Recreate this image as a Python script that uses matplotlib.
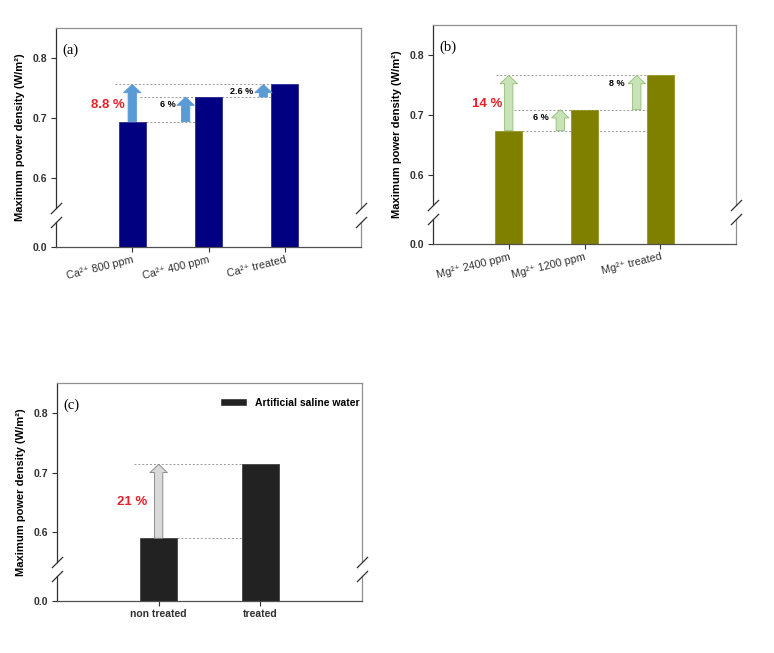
import matplotlib
matplotlib.use("Agg")
import numpy as np
import matplotlib.pyplot as plt

plt.rcParams['font.family'] = ['Liberation Sans', 'DejaVu Sans']

W, H = 774, 653

# data
ca_labels = ['Ca²⁺ 800 ppm', 'Ca²⁺ 400 ppm', 'Ca²⁺ treated']
ca_values = [0.694, 0.735, 0.756]
mg_labels = ['Mg²⁺ 2400 ppm', 'Mg²⁺ 1200 ppm', 'Mg²⁺ treated']
mg_values = [0.674, 0.709, 0.766]
sw_labels = ['non treated', 'treated']
sw_values = [0.590, 0.714]

# broken y axis: 0 .. 0.55 squeezed into a short strip
BRK, T0 = 0.55, 0.485


def fwd(v):
    v = np.asarray(v, dtype=float)
    return np.where(v >= BRK, v, T0 + v * (BRK - T0) / BRK)


def inv(t):
    t = np.asarray(t, dtype=float)
    return np.where(t >= BRK, t, (t - T0) * BRK / (BRK - T0))


def box(x0, x1, y0, y1):
    return [x0 / W, 1 - y1 / H, (x1 - x0) / W, (y1 - y0) / H]


def panel(fig, xs, ytop, ybot, ncat, ylab_x):
    ax = fig.add_axes(box(xs[0], xs[1], ytop, ybot))
    ax.set_yscale('function', functions=(fwd, inv))
    ax.set_ylim(0, 0.85)
    ax.set_xlim(-1, ncat)
    ax.set_yticks([0.0, 0.6, 0.7, 0.8])
    ax.set_yticklabels(['0.0', '0.6', '0.7', '0.8'], fontweight='bold')
    ax.minorticks_off()
    ax.spines['left'].set_visible(False)
    ax.spines['right'].set_visible(False)
    ax.spines['top'].set_color('#909090')
    ax.spines['bottom'].set_color('#505050')
    for s in ax.spines.values():
        s.set_linewidth(0.9)
    ax.tick_params(direction='out', length=3.5, width=0.8, colors='#303030',
                   labelsize=7.5, pad=2)
    ax.tick_params(axis='y', pad=3)
    # side spines with a gap, plus break marks
    lo, hi = 0.114, 0.178
    for x, c in ((0, '#303030'), (1, '#909090')):
        ax.plot([x, x], [0, lo], transform=ax.transAxes, color=c, lw=0.9, clip_on=False)
        ax.plot([x, x], [hi, 1], transform=ax.transAxes, color=c, lw=0.9, clip_on=False)
        ax.plot([x, x], [lo, hi], transform=ax.transAxes, linestyle='none',
                marker=[(-1, -1), (1, 1)], markersize=8, mec='#303030', mew=0.9,
                clip_on=False)
    fig.text(ylab_x / W, 1 - (ytop + ybot) / 2 / H, 'Maximum power density (W/m²)',
             rotation=90, ha='center', va='center', fontsize=8, fontweight='bold')
    return ax


def up_arrow(ax, x, y0, y1, fc, ec):
    ax.annotate('', xy=(x, y1), xytext=(x, y0),
                arrowprops=dict(arrowstyle='simple,head_length=0.6,head_width=1.25,tail_width=0.6',
                                mutation_scale=10, fc=fc, ec=ec, lw=0.6,
                                shrinkA=0, shrinkB=0))


def dashed(ax, y, x0, x1):
    ax.hlines(y, x0, x1, colors='#9a9a9a', linestyles=(0, (2, 2)), linewidth=0.7, zorder=1)


fig = plt.figure(figsize=(W / 100, H / 100), dpi=100)
bw = 0.36

# ---------- (a) ----------
ax = panel(fig, (56, 361), 28, 247, 3, 20)
xa = list(range(len(ca_values)))
ax.bar(xa, ca_values, width=bw, color='#000080', edgecolor='#1a1a8a', lw=0.5, zorder=2)
ax.set_xticks(xa)
ax.set_xticklabels(ca_labels, rotation=14, ha='right', va='top',
                   rotation_mode='anchor', fontsize=7.8)
dashed(ax, ca_values[2], -0.22, 2 - bw / 2)
dashed(ax, ca_values[1], 0.1, 2 - bw / 2)
dashed(ax, ca_values[0], bw / 2, 1 - bw / 2)
blue = '#5b9bd5'
up_arrow(ax, 0, ca_values[0], ca_values[2], blue, blue)
up_arrow(ax, 0.7, ca_values[0], ca_values[1], blue, blue)
up_arrow(ax, 1.72, ca_values[1], ca_values[2], blue, blue)
ax.text(-0.32, 0.722, '8.8 %', color='#e8202a', fontsize=9.5, fontweight='bold',
        ha='center', va='center')
ax.text(0.47, 0.722, '6 %', fontsize=6.5, fontweight='bold', ha='center', va='center')
ax.text(1.44, 0.745, '2.6 %', fontsize=6.5, fontweight='bold', ha='center', va='center')
ax.text(0.02, 0.9, '(a)', transform=ax.transAxes, family=['Liberation Serif'],
        fontsize=10.5, ha='left', va='center')

# ---------- (b) ----------
ax = panel(fig, (433, 736), 25, 244, 3, 397)
xb = list(range(len(mg_values)))
ax.bar(xb, mg_values, width=bw, color='#808000', edgecolor='#8a8a10', lw=0.5, zorder=2)
ax.set_xticks(xb)
ax.set_xticklabels(mg_labels, rotation=14, ha='right', va='top',
                   rotation_mode='anchor', fontsize=7.8)
dashed(ax, mg_values[2], -0.17, 2 - bw / 2)
dashed(ax, mg_values[1], 0.07, 2 - bw / 2)
dashed(ax, mg_values[0], bw / 2, 2 - bw / 2)
gfc, gec = '#c9e3b8', '#8fbf74'
up_arrow(ax, 0, mg_values[0], mg_values[2], gfc, gec)
up_arrow(ax, 0.68, mg_values[0], mg_values[1], gfc, gec)
up_arrow(ax, 1.69, mg_values[1], mg_values[2], gfc, gec)
ax.text(-0.28, 0.718, '14 %', color='#e8202a', fontsize=9.5, fontweight='bold',
        ha='center', va='center')
ax.text(0.43, 0.696, '6 %', fontsize=6.5, fontweight='bold', ha='center', va='center')
ax.text(1.42, 0.752, '8 %', fontsize=6.5, fontweight='bold', ha='center', va='center')
ax.text(0.02, 0.9, '(b)', transform=ax.transAxes, family=['Liberation Serif'],
        fontsize=10.5, ha='left', va='center')

# ---------- (c) ----------
ax = panel(fig, (57, 362), 383, 601, 2, 21)
xc = list(range(len(sw_values)))
ax.bar(xc, sw_values, width=bw, color='#222222', edgecolor='#333333', lw=0.5, zorder=2,
       label='Artificial saline water')
ax.set_xticks(xc)
ax.set_xticklabels(sw_labels, fontsize=7.5, fontweight='bold')
dashed(ax, sw_values[1], -0.24, 1 - bw / 2)
dashed(ax, sw_values[0], bw / 2, 1 - bw / 2)
up_arrow(ax, 0, sw_values[0], sw_values[1], '#d9d9d9', '#808080')
ax.text(-0.26, 0.651, '21 %', color='#e8202a', fontsize=9.5, fontweight='bold',
        ha='center', va='center')
ax.text(0.02, 0.9, '(c)', transform=ax.transAxes, family=['Liberation Serif'],
        fontsize=10.5, ha='left', va='center')
ax.legend(loc='upper right', bbox_to_anchor=(1.015, 0.965), frameon=False,
          prop=dict(weight='bold', size=7.5),
          handlelength=2.4, handleheight=0.5, borderaxespad=0.3)

fig.savefig('out.png', dpi=100)
